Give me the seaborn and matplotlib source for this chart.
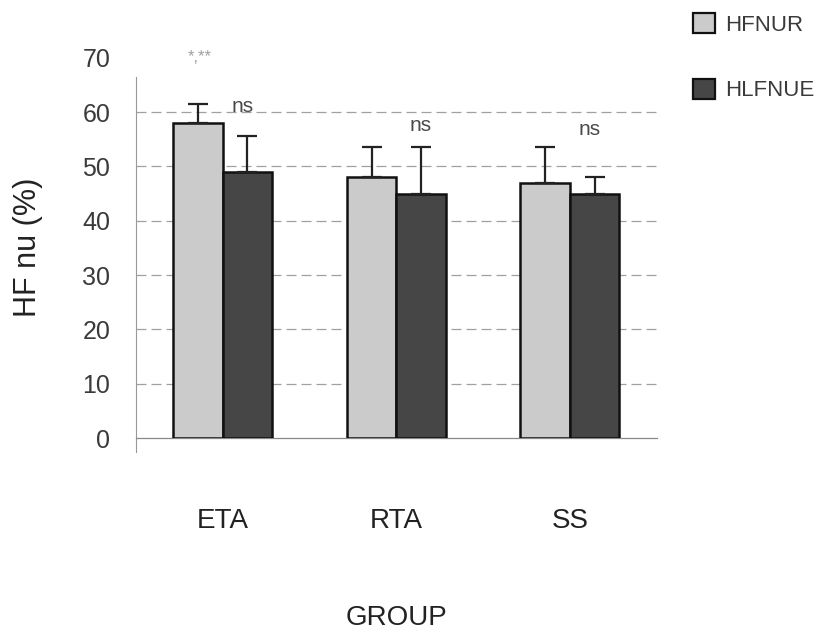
import matplotlib
matplotlib.use("Agg")
import matplotlib.pyplot as plt
import seaborn as sns
import pandas as pd
from matplotlib.patches import Patch

# Data
groups = ["ETA", "RTA", "SS"]
series = ["HFNUR", "HLFNUE"]
hfnur_mean = [58, 48, 47]
hfnur_sd = [3.5, 5.5, 6.5]
hlfnue_mean = [49, 45, 45]
hlfnue_sd = [6.5, 8.5, 3.0]
sig_labels = ["ns", "ns", "ns"]
sig_heights = [61.1, 57.5, 56.7]
sig_shift = [-0.03, 0.0, -0.03]
star_label = "*,**"
y_ticks = [0, 10, 20, 30, 40, 50, 60, 70]

sns.set_style("white")
font = ["Liberation Sans", "DejaVu Sans"]
plt.rcParams["font.family"] = font

df = pd.DataFrame({
    "GROUP": groups * 2,
    "series": [series[0]] * 3 + [series[1]] * 3,
    "value": hfnur_mean + hlfnue_mean,
    "sd": hfnur_sd + hlfnue_sd,
})

colors = {"HFNUR": "#cbcbcb", "HLFNUE": "#464646"}
text_col = "#3a3a3a"

fig = plt.figure(figsize=(8.24, 6.34), dpi=100)
ax = fig.add_axes([0.165, 0.309, 0.632, 0.600])

sns.barplot(data=df, x="GROUP", y="value", hue="series", order=groups,
            hue_order=series, palette=colors, errorbar=None, width=0.57,
            edgecolor="#111111", linewidth=1.8, legend=False, ax=ax, zorder=3)

# one-sided error bars above each bar
for container, name in zip(ax.containers, series):
    sub = df[df["series"] == name].set_index("GROUP").loc[groups]
    xs = [p.get_x() + p.get_width() / 2 for p in container.patches]
    ax.errorbar(xs, sub["value"].values, yerr=[[0] * 3, sub["sd"].values],
                fmt="none", ecolor="#222222", elinewidth=1.6, capsize=7.5,
                capthick=1.6, zorder=4)

# significance labels over the second bar of each group
dark_x = [p.get_x() + p.get_width() / 2 for p in ax.containers[1].patches]
for x, lab, h, dx in zip(dark_x, sig_labels, sig_heights, sig_shift):
    ax.text(x + dx, h, lab, ha="center", va="center", fontsize=15,
            color="#4a4a4a", zorder=5)
light_x = [p.get_x() + p.get_width() / 2 for p in ax.containers[0].patches]
ax.text(light_x[0] + 0.01, 70.0, star_label, ha="center", va="center",
        fontsize=12, color="#a0a0a0", clip_on=False)

ax.set_ylim(0, 70)
ax.set_xlim(-0.5, 2.5)
ax.set_yticks(y_ticks)
ax.set_yticklabels([str(t) for t in y_ticks], fontsize=18, color=text_col)
for t in y_ticks[1:-1]:
    ax.axhline(t, color="#a0a0a0", lw=0.9, ls=(0, (8, 4)), zorder=1)

ax.set_xticks(range(3))
ax.set_xticklabels(groups, fontsize=20, color="#222222")
ax.tick_params(axis="x", which="major", length=0, pad=50)
ax.set_xticks([-0.5, 0.5, 1.5, 2.5], minor=True)
ax.tick_params(axis="x", which="minor", length=10, width=0.8,
               color="#888888", direction="out")
ax.tick_params(axis="y", length=0, pad=18.5)

for s in ["top", "right"]:
    ax.spines[s].set_visible(False)
ax.spines["left"].set_color("#999999")
ax.spines["left"].set_linewidth(0.8)
ax.spines["left"].set_bounds(-2.5, 66.5)
ax.spines["bottom"].set_color("#888888")
ax.spines["bottom"].set_linewidth(0.9)

ax.set_ylabel("HF nu (%)", fontsize=22, color="#222222")
ax.yaxis.set_label_coords(-0.178, 0.502)
ax.set_xlabel("GROUP", fontsize=20, color="#222222")
ax.xaxis.set_label_coords(0.5, -0.438)

handles = [Patch(facecolor=colors[s], edgecolor="#111111", linewidth=1.6,
                 label=s) for s in series]
fig.legend(handles=handles, loc="upper left",
           bbox_to_anchor=(693 / 824, 1 - 13 / 634), borderpad=0,
           borderaxespad=0, frameon=False, fontsize=16, handlelength=1.0,
           handleheight=1.0, labelspacing=1.95, handletextpad=0.45,
           labelcolor=text_col)

fig.savefig("out.png", dpi=100)
